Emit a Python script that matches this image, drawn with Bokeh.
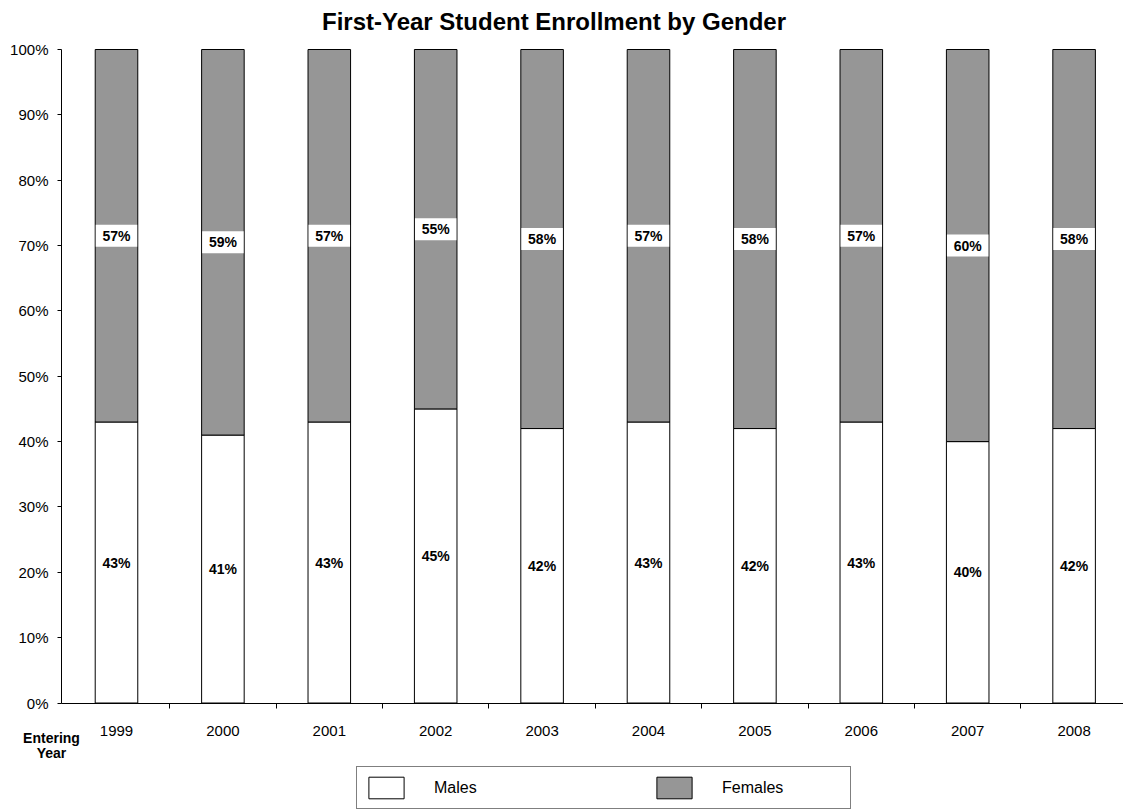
from bokeh.plotting import figure
from bokeh.models import (ColumnDataSource, FixedTicker, NumeralTickFormatter, Legend,
                          LegendItem, Label, Range1d)
from bokeh.core.properties import value
from bokeh.embed import file_html
from bokeh.resources import INLINE

# ---- data ----
years = ["1999", "2000", "2001", "2002", "2003", "2004", "2005", "2006", "2007", "2008"]
males = [43, 41, 43, 45, 42, 43, 42, 43, 40, 42]
females = [57, 59, 57, 55, 58, 57, 58, 57, 60, 58]
y_ticks = [0, 10, 20, 30, 40, 50, 60, 70, 80, 90, 100]

FONT = "Liberation Sans"
GRAY = "#969696"

xs = list(range(len(years)))
m = [v / 100 for v in males]
f = [v / 100 for v in females]
top = [a + b for a, b in zip(m, f)]
src = ColumnDataSource(dict(
    x=xs, m=m, top=top,
    mlab=[f"{v}%" for v in males], flab=[f"{v}%" for v in females],
    my=[a / 2 for a in m], fy=[a + b / 2 for a, b in zip(m, f)],
))

X0, X1 = -1.0902, 9.4643
Y0, Y1 = -0.1645, 1.0750
p = figure(width=1123, height=810, output_backend="svg", toolbar_location=None,
           x_range=Range1d(X0, X1), y_range=Range1d(Y0, Y1),
           min_border=0, min_border_left=0, min_border_right=0,
           min_border_top=0, min_border_bottom=0)
p.title.visible = False
p.outline_line_color = None
p.xgrid.visible = False
p.ygrid.visible = False
p.background_fill_color = "white"
p.border_fill_color = "white"

BW = 0.4
r_m = p.vbar(x="x", width=BW, bottom=0, top="m", source=src,
             fill_color="white", line_color="black", line_width=1)
r_f = p.vbar(x="x", width=BW, bottom="m", top="top", source=src,
             fill_color=GRAY, line_color="black", line_width=1)

# white boxes behind female labels
p.rect(x="x", y="fy", width=BW - 0.01, height=22, height_units="screen", source=src,
       fill_color="white", line_color=None)
p.text(x="x", y="fy", text="flab", source=src, text_font=value(FONT), text_font_style="bold",
       text_font_size="14px", text_align="center", text_baseline="middle", text_color="black")
p.text(x="x", y="my", text="mlab", source=src, text_font=value(FONT), text_font_style="bold",
       text_font_size="14px", text_align="center", text_baseline="middle", text_color="black")

AX_LEFT = -0.517  # where the value axis sits

# x axis (category axis at 0%)
xa = p.xaxis[0]
xa.fixed_location = 0
xa.bounds = (AX_LEFT, X1)
xa.ticker = FixedTicker(ticks=xs, minor_ticks=[i + 0.5 for i in range(len(years) - 1)])
xa.major_label_overrides = {i: yr for i, yr in enumerate(years)}
xa.major_tick_line_color = None
xa.major_tick_in = 0
xa.major_tick_out = 0
xa.minor_tick_in = 0
xa.minor_tick_out = 5
xa.minor_tick_line_color = "black"
xa.axis_line_color = "black"
xa.major_label_standoff = 18
xa.major_label_text_font = FONT
xa.major_label_text_font_size = "15px"
xa.major_label_text_color = "black"

# y axis
ya = p.yaxis[0]
ya.fixed_location = AX_LEFT
ya.bounds = (0, 1)
ya.ticker = FixedTicker(ticks=[t / 100 for t in y_ticks], minor_ticks=[])
ya.formatter = NumeralTickFormatter(format="0%")
ya.major_tick_in = 0
ya.major_tick_out = 4
ya.major_tick_line_color = "black"
ya.minor_tick_line_color = None
ya.axis_line_color = "black"
ya.major_label_standoff = 9
ya.major_label_text_font = FONT
ya.major_label_text_font_size = "15px"
ya.major_label_text_color = "black"

# title
p.add_layout(Label(x=4.112, y=1.0428, text="First-Year Student Enrollment by Gender",
                   text_align="center", text_baseline="middle", text_font=FONT,
                   text_font_size="24px", text_font_style="bold", text_color="black"))

# "Entering Year"
for txt, yy in (("Entering", -0.0528), ("Year", -0.0758)):
    p.add_layout(Label(x=-0.611, y=yy, text=txt, text_align="center", text_baseline="middle",
                       text_font=FONT, text_font_size="14px", text_font_style="bold",
                       text_color="black"))

legend = Legend(items=[LegendItem(label="Males", renderers=[r_m]),
                       LegendItem(label="Females", renderers=[r_f])],
                orientation="horizontal", location=(356, 1),
                glyph_width=44, glyph_height=27, padding=7, label_standoff=26,
                label_width=121, spacing=97, margin=0,
                border_line_color="black", border_line_width=1,
                background_fill_color="white", background_fill_alpha=1,
                label_text_font=FONT, label_text_font_size="16px", label_text_color="black",
                label_text_baseline="top")
p.add_layout(legend)

open("out.html", "w").write(file_html(p, INLINE))
